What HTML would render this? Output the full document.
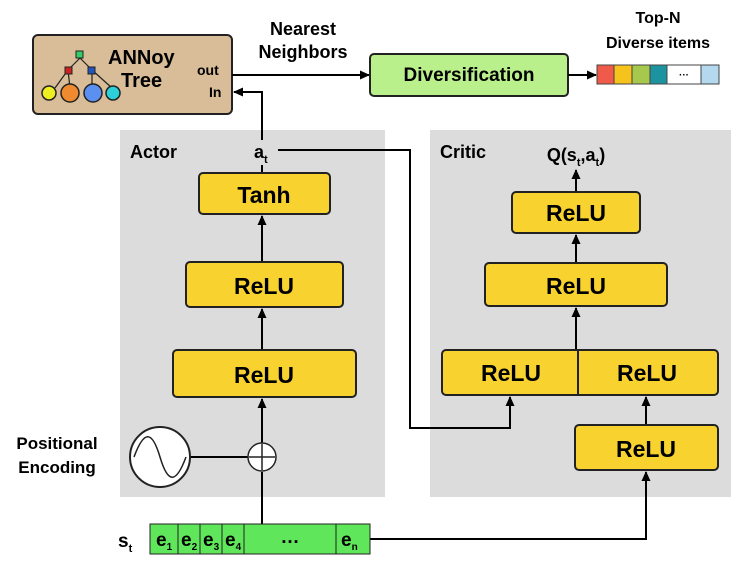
<!DOCTYPE html>
<html><head><style>
body{margin:0;background:#fff}
svg text{font-family:"Liberation Sans",sans-serif;font-weight:bold}
</style></head><body>
<svg width="754" height="564" xmlns="http://www.w3.org/2000/svg">
<defs><marker id="a" markerWidth="10" markerHeight="10" refX="9" refY="5" orient="auto" markerUnits="userSpaceOnUse"><path d="M0,0.5L10,5L0,9.5z" fill="#000"/></marker></defs>
<rect x="120" y="130" width="265" height="367" fill="#dcdcdc"/>
<rect x="430" y="130" width="301" height="367" fill="#dcdcdc"/>
<rect x="33" y="35" width="199" height="79" rx="5" fill="#d8bd98" stroke="#222" stroke-width="2"/>
<g stroke="#222" stroke-width="1.2"><path d="M80,58L68,70M80,58L92,70M68,70L55,88M68,70L70,88M92,70L92,88M92,70L112,88"/></g>
<rect x="76" y="51" width="7" height="7" fill="#3c6" stroke="#222"/>
<rect x="65" y="67" width="7" height="7" fill="#c22" stroke="#222"/>
<rect x="88" y="67" width="7" height="7" fill="#25b" stroke="#222"/>
<circle cx="49" cy="93" r="7" fill="#ee2" stroke="#222" stroke-width="1.5"/>
<circle cx="70" cy="93" r="9" fill="#f08a30" stroke="#222" stroke-width="1.5"/>
<circle cx="93" cy="93" r="9" fill="#5b8ff0" stroke="#222" stroke-width="1.5"/>
<circle cx="113" cy="93" r="7" fill="#2cd0d8" stroke="#222" stroke-width="1.5"/>
<text x="108" y="64" font-size="20">ANNoy</text>
<text x="121" y="87" font-size="20">Tree</text>
<text x="197" y="75" font-size="14">out</text>
<text x="209" y="97" font-size="14">In</text>
<text x="303" y="35" font-size="18" text-anchor="middle">Nearest</text>
<text x="303" y="58" font-size="18" text-anchor="middle">Neighbors</text>
<line x1="232" y1="75" x2="369" y2="75" stroke="#000" stroke-width="2" marker-end="url(#a)"/>
<rect x="370" y="54" width="198" height="42" rx="4" fill="#b9f08c" stroke="#222" stroke-width="2"/>
<text x="469" y="81" font-size="19" text-anchor="middle">Diversification</text>
<line x1="568" y1="75" x2="596" y2="75" stroke="#000" stroke-width="2" marker-end="url(#a)"/>
<text x="658" y="23" font-size="16" text-anchor="middle">Top-N</text>
<text x="658" y="48" font-size="16" text-anchor="middle">Diverse items</text>
<g stroke="#444" stroke-width="1">
<rect x="597" y="65" width="17" height="19" fill="#ef5a4a"/><rect x="614" y="65" width="18" height="19" fill="#f6c21c"/>
<rect x="632" y="65" width="18" height="19" fill="#a6c84c"/><rect x="650" y="65" width="17" height="19" fill="#1e93a0"/>
<rect x="667" y="65" width="34" height="19" fill="#fff"/><rect x="701" y="65" width="18" height="19" fill="#b4d8ee"/></g>
<text x="684" y="78" font-size="10" text-anchor="middle" font-weight="normal">···</text>
<text x="130" y="158" font-size="18">Actor</text>
<text x="440" y="158" font-size="18">Critic</text>
<text x="254" y="158" font-size="18">a<tspan font-size="11" dy="5">t</tspan></text>
<text x="576" y="161" font-size="18" text-anchor="middle">Q(s<tspan font-size="11" dy="5">t</tspan><tspan dy="-5">,a</tspan><tspan font-size="11" dy="5">t</tspan><tspan dy="-5">)</tspan></text>
<g fill="none" stroke="#000" stroke-width="2">
<path d="M262,173V165M262,140V92H234" marker-end="url(#a)"/>
<path d="M278,150H410V428H510V397" marker-end="url(#a)"/>
<path d="M262,262V216" marker-end="url(#a)"/>
<path d="M262,350V309" marker-end="url(#a)"/>
<path d="M262,524V472M262,443V399" marker-end="url(#a)"/>
<path d="M190,457H248"/>
<path d="M370,539H646V472" marker-end="url(#a)"/>
<path d="M646,425V397" marker-end="url(#a)"/>
<path d="M576,350V308" marker-end="url(#a)"/>
<path d="M576,263V235" marker-end="url(#a)"/>
<path d="M576,192V170" marker-end="url(#a)"/>
</g>
<g fill="#f8d22e" stroke="#222" stroke-width="2">
<rect x="199" y="173" width="131" height="41" rx="4"/>
<rect x="186" y="262" width="157" height="45" rx="4"/>
<rect x="173" y="350" width="183" height="47" rx="4"/>
<rect x="512" y="192" width="128" height="41" rx="4"/>
<rect x="485" y="263" width="182" height="43" rx="4"/>
<rect x="442" y="350" width="276" height="45" rx="4"/>
<rect x="575" y="425" width="143" height="45" rx="4"/>
</g>
<line x1="578" y1="350" x2="578" y2="395" stroke="#222" stroke-width="2"/>
<g font-size="23" text-anchor="middle">
<text x="264" y="203">Tanh</text><text x="264" y="294">ReLU</text><text x="264" y="383">ReLU</text>
<text x="576" y="221">ReLU</text><text x="576" y="294">ReLU</text>
<text x="511" y="381">ReLU</text><text x="647" y="381">ReLU</text><text x="646" y="457">ReLU</text></g>
<circle cx="160" cy="457" r="30" fill="#fff" stroke="#222" stroke-width="2"/>
<path d="M134,457C144,430 152,430 160,457S176,484 186,457" fill="none" stroke="#222" stroke-width="1.5"/>
<circle cx="262" cy="457" r="14" fill="#fff" stroke="#222" stroke-width="1.5"/>
<path d="M249,457H275M262,444V470" stroke="#222" stroke-width="1.5"/>
<text x="57" y="449" font-size="17" text-anchor="middle">Positional</text>
<text x="57" y="473" font-size="17" text-anchor="middle">Encoding</text>
<text x="118" y="547" font-size="19">s<tspan font-size="11" dy="5">t</tspan></text>
<g fill="#5fe65a" stroke="#222" stroke-width="1">
<rect x="150" y="524" width="28" height="30"/><rect x="178" y="524" width="22" height="30"/>
<rect x="200" y="524" width="22" height="30"/><rect x="222" y="524" width="22" height="30"/>
<rect x="244" y="524" width="92" height="30"/><rect x="336" y="524" width="34" height="30"/></g>
<g font-size="19" font-weight="normal">
<text x="156" y="546">e<tspan font-size="10" dy="4">1</tspan></text>
<text x="181" y="546">e<tspan font-size="10" dy="4">2</tspan></text>
<text x="203" y="546">e<tspan font-size="10" dy="4">3</tspan></text>
<text x="225" y="546">e<tspan font-size="10" dy="4">4</tspan></text>
<text x="290" y="543" text-anchor="middle">…</text>
<text x="341" y="546">e<tspan font-size="10" dy="4">n</tspan></text></g>
</svg>
</body></html>
